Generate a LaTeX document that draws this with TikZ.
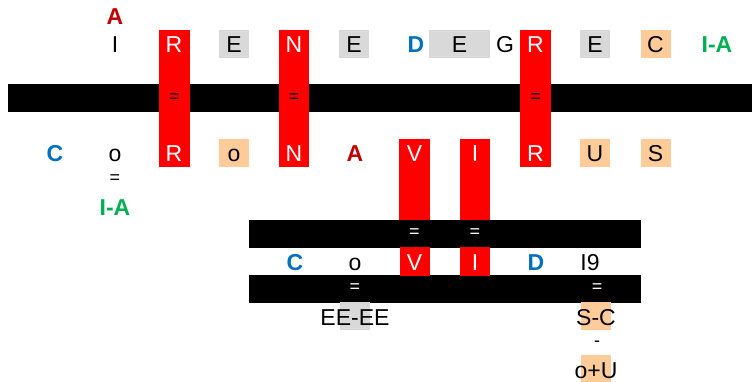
\documentclass[tikz,border=0pt]{standalone}
\usepackage{fontspec}
\setmainfont{Liberation Sans}
\definecolor{cred}{HTML}{FF0000}
\definecolor{cdred}{HTML}{C00000}
\definecolor{cblue}{HTML}{0070C0}
\definecolor{cgreen}{HTML}{00B050}
\definecolor{cgray}{HTML}{D9D9D9}
\definecolor{cpeach}{HTML}{FFCC99}
\tikzset{
  txt/.style={font=\fontsize{23}{24}\selectfont, inner sep=0pt, text height=18pt, text depth=0pt},
  bld/.style={txt, font=\fontsize{23}{24}\selectfont\bfseries},
  cell/.style={txt, minimum width=30pt, minimum height=28pt},
  graycell/.style={cell, fill=cgray},
  peachcell/.style={cell, fill=cpeach},
  redcell/.style={cell, fill=cred, text=white},
  eq/.style={font=\fontsize{18}{18}\selectfont, inner sep=0pt},
}
\begin{document}
\begin{tikzpicture}[x=1pt,y=-1pt]
\useasboundingbox (0,0) rectangle (755,382);
% top black bar
\fill[black] (8,84) rectangle (752,112);
% red columns
\fill[cred] (159,30) rectangle (190,167);
\fill[cred] (279,30) rectangle (309,167);
\fill[cred] (520,30) rectangle (551,167);
\fill[cred] (399,139) rectangle (430,220);
\fill[cred] (460,139) rectangle (490,220);
% lower bars
\fill[black] (249,220) rectangle (641,248);
\fill[black] (249,275) rectangle (641,303);

% row 1
\node[bld, text=cdred] (a0) at (115,16) {A};
\node[cell] (i1) at (115,44) {I};
\node[redcell] (r1) at (174,44) {R};
\node[graycell] (e1) at (234,44) {E};
\node[redcell] (n1) at (294,44) {N};
\node[graycell] (e2) at (354,44) {E};
\node[bld, text=cblue] (d1) at (416,44) {D};
\node[graycell, minimum width=61pt] (e3) at (459.5,44) {E};
\node[cell] (g1) at (505,44) {G};
\node[redcell] (r2) at (535.5,44) {R};
\node[graycell] (e4) at (595,44) {E};
\node[peachcell] (c1) at (655.5,44) {C};
\node[bld, text=cgreen] (ia1) at (717,44) {I-A};

% equals on bar 1
\node[eq] (q1) at (174.5,98) {=};
\node[eq] (q2) at (294,98) {=};
\node[eq] (q3) at (535.5,98) {=};

% row 2
\node[bld, text=cblue] (c2) at (55,153) {C};
\node[cell] (o2) at (115,153) {o};
\node[redcell] (r3) at (174,153) {R};
\node[peachcell] (o3) at (234,153) {o};
\node[redcell] (n2) at (294,153) {N};
\node[bld, text=cdred] (a2) at (355,153) {A};
\node[redcell] (v2) at (414.5,153) {V};
\node[redcell] (i2) at (475,153) {I};
\node[redcell] (r4) at (535.5,153) {R};
\node[peachcell] (u2) at (595,153) {U};
\node[peachcell] (s2) at (655.5,153) {S};
\node[eq] (q4) at (115,179) {=};
\node[bld, text=cgreen] (ia2) at (115,207) {I-A};

% equals on bar 2
\node[eq, text=white] (q5) at (414.5,233) {=};
\node[eq, text=white] (q6) at (475,233) {=};

% row 3
\node[bld, text=cblue] (c3) at (295,261.5) {C};
\node[cell] (o4) at (355,261.5) {o};
\node[redcell] (v3) at (414.5,261.5) {V};
\node[redcell] (i3) at (475,261.5) {I};
\node[bld, text=cblue] (d3) at (536,261.5) {D};
\node[txt] (n9) at (590,261.5) {I9};

% equals on bar 3
\node[eq, text=white] (q7) at (355,288) {=};
\node[eq, text=white] (q8) at (597,288) {=};

% below
\node[graycell] (gb) at (354.5,316) {};
\node[txt] (ee) at (355,316) {EE-EE};
\node[peachcell] (pb1) at (595.5,316) {};
\node[txt] (sc) at (596,316) {S-C};
\node[eq] (dash) at (597,344) {-};
\node[peachcell] (pb2) at (595.5,369) {};
\node[txt] (ou) at (596,369) {o+U};
\end{tikzpicture}
\end{document}
